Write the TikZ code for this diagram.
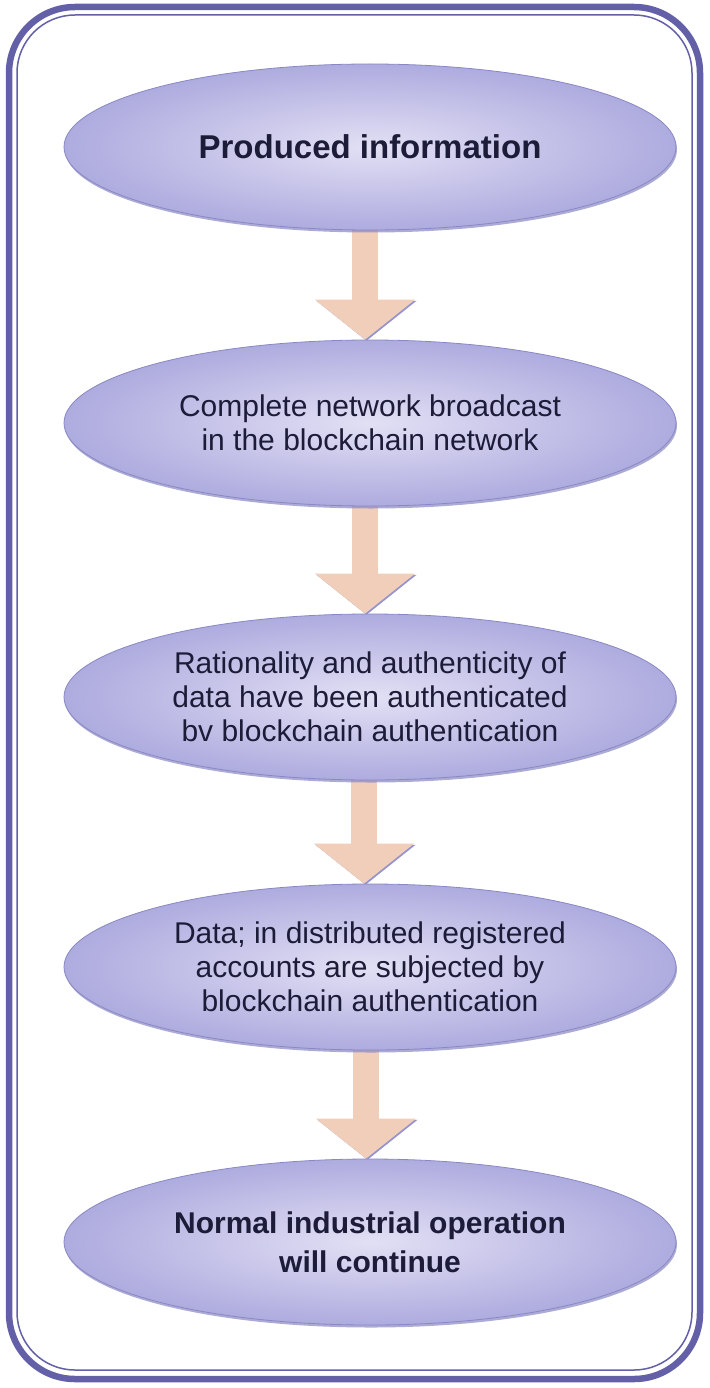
\documentclass[tikz,border=0pt]{standalone}
\usepackage{fontspec}
\setmainfont{Liberation Sans}
\usetikzlibrary{shapes.geometric,arrows.meta,shadows}
\definecolor{framecol}{RGB}{100,96,168}
\definecolor{ellin}{RGB}{226,224,244}
\definecolor{ellout}{RGB}{174,171,223}
\definecolor{ellrim}{RGB}{138,136,196}
\definecolor{arrowfill}{RGB}{240,206,186}
\definecolor{arrowshade}{RGB}{150,148,205}
\definecolor{txt}{RGB}{28,28,56}
\pgfdeclarelayer{background}
\pgfsetlayers{background,main}
\tikzset{
  stage/.style={ellipse, minimum width=612pt, minimum height=166pt, inner sep=0pt,
    draw=ellrim, line width=0.8pt, inner color=ellin, outer color=ellout,
    text=txt, align=center,
    drop shadow={shadow xshift=1pt, shadow yshift=-2.5pt, fill=ellrim, opacity=0.7}},
  body/.style={font=\fontsize{30}{34}\selectfont},
  headline/.style={font=\bfseries\fontsize{33}{39}\selectfont},
  tailline/.style={font=\bfseries\fontsize{30}{39}\selectfont},
  flow/.style={draw=arrowfill, line width=26pt, -{Triangle[width=98pt,length=40pt]},
    preaction={draw=arrowshade, transform canvas={xshift=1.5pt, yshift=-1.2pt}}},
  outerframe/.style={draw=framecol, line width=6.5pt, rounded corners=66pt},
  innerframe/.style={draw=framecol, line width=1.5pt, rounded corners=58pt}
}
\begin{document}
\begin{tikzpicture}[x=1pt, y=-1pt]
\useasboundingbox (0,0) rectangle (709,1388);
\draw[outerframe] (9,7) rectangle (700,1379);
\draw[innerframe] (17,15) rectangle (692,1370);

\node[stage, headline] (e1) at (370,147) {Produced information};
\node[stage, body] (e2) at (370,423) {Complete network broadcast\\in the blockchain network};
\node[stage, body] (e3) at (370,697) {Rationality and authenticity of\\data have been authenticated\\bv blockchain authentication};
\node[stage, body] (e4) at (370,967) {Data; in distributed registered\\accounts are subjected by\\blockchain authentication};
\node[stage, tailline] (e5) at (370,1242) {Normal industrial operation\\will continue};

\begin{pgfonlayer}{background}
\fill[white] (0,0) rectangle (709,1388);
\draw[flow] ([xshift=-5pt]e1.center) -- ([xshift=-5pt]e2.north);
\draw[flow] ([xshift=-5pt]e2.center) -- ([xshift=-5pt]e3.north);
\draw[flow] ([xshift=-6pt]e3.center) -- ([xshift=-6pt]e4.north);
\draw[flow] ([xshift=-4pt]e4.center) -- ([xshift=-4pt]e5.north);
\end{pgfonlayer}
\end{tikzpicture}
\end{document}
